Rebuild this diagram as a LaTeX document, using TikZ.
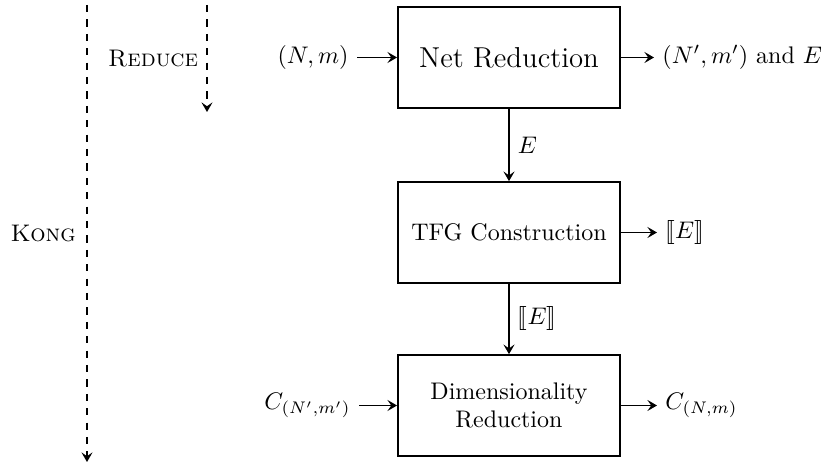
\documentclass[tikz,border=0pt]{standalone}
\usepackage{stmaryrd}
\usetikzlibrary{arrows.meta}
\begin{document}
\begin{tikzpicture}[x=0.41667pt,y=-0.41667pt,
  blk/.style={draw,thick,minimum width=92.5pt,minimum height=42pt,align=center},
  tip/.style={-{Stealth[length=4pt,width=4.6pt,inset=1.6pt]}},
  conn/.style={tip,thick},
  flow/.style={tip,thick,dashed},
  lbl/.style={inner sep=3.33pt}]
\useasboundingbox (0,0) rectangle (827,464);
% process boxes
\node[blk,font=\large] (nr) at (509,57.5) {Net Reduction};
\node[blk] (tfg) at (509,232.5) {TFG Construction};
\node[blk] (dr) at (509,405.5) {Dimensionality\\Reduction};
% inputs and outputs
\node[lbl,anchor=east] (in1) at (357,57.5) {$(N,m)$};
\node[lbl,anchor=west] (out1) at (654,57.5) {$(N',m')$ and $E$};
\node[lbl,anchor=west] (out2) at (657,232.5) {$\llbracket E\rrbracket$};
\node[lbl,anchor=east] (in3) at (359,405.5) {$C_{(N',m')}$};
\node[lbl,anchor=west] (out3) at (657,405.5) {$C_{(N,m)}$};
\draw[conn] (in1.east) -- (nr.west);
\draw[conn] (nr.east) -- (out1.west);
\draw[conn] (tfg.east) -- (out2.west);
\draw[conn] (in3.east) -- (dr.west);
\draw[conn] (dr.east) -- (out3.west);
\draw[conn] (nr.south) -- node[right] {$E$} (tfg.north);
\draw[conn] (tfg.south) -- node[right] {$\llbracket E\rrbracket$} (dr.north);
% dashed phase arrows
\coordinate (k1) at (87,5);
\coordinate (k2) at (87,462);
\coordinate (r1) at (207,5);
\coordinate (r2) at (207,112);
\draw[flow] (k1) -- node[left,xshift=-1pt] {\textsc{Kong}} (k2);
\draw[flow] (r1) -- node[left] {\textsc{Reduce}} (r2);
\end{tikzpicture}
\end{document}
